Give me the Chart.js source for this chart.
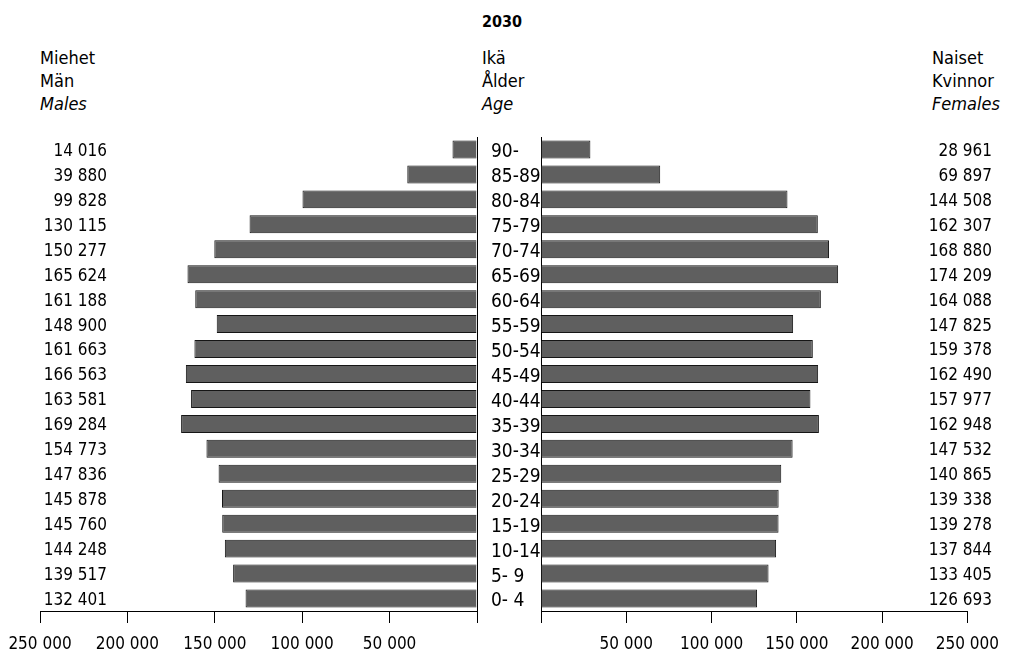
<!DOCTYPE html>
<html>
<head>
<meta charset="utf-8">
<script src="https://cdn.jsdelivr.net/npm/chart.js@4/dist/chart.umd.min.js"></script>
<style>
  html,body{margin:0;padding:0;background:#fff;}
  body{width:1010px;height:653px;position:relative;overflow:hidden;
       font-family:"DejaVu Sans Condensed","Liberation Sans Narrow","Liberation Sans",sans-serif;color:#000;}
  canvas{position:absolute;top:0;}
  .hdr{position:absolute;font-size:18px;line-height:23px;}
  .it{font-style:italic;}
  #year{position:absolute;left:482px;top:10px;font-size:16px;font-weight:bold;line-height:24px;}
</style>
</head>
<body>
<div id="year">2030</div>
<div class="hdr" style="left:40px;top:46px;">Miehet<br>Män<br><span class="it">Males</span></div>
<div class="hdr" style="left:482px;top:46px;">Ikä<br>Ålder<br><span class="it">Age</span></div>
<div class="hdr" style="left:932px;top:46px;">Naiset<br>Kvinnor<br><span class="it">Females</span></div>
<canvas id="m" width="540" height="653" style="left:0;width:540px;height:653px;"></canvas>
<canvas id="f" width="510" height="653" style="left:500px;width:510px;height:653px;"></canvas>
<script>
const ageGroups = ['90-','85-89','80-84','75-79','70-74','65-69','60-64','55-59','50-54','45-49','40-44','35-39','30-34','25-29','20-24','15-19','10-14','5- 9','0- 4'];
const males = [14016,39880,99828,130115,150277,165624,161188,148900,161663,166563,163581,169284,154773,147836,145878,145760,144248,139517,132401];
const females = [28961,69897,144508,162307,168880,174209,164088,147825,159378,162490,157977,162948,147532,140865,139338,139278,137844,133405,126693];
const axisTicks = [0,50000,100000,150000,200000,250000];

const FONT = '"DejaVu Sans Condensed","Liberation Sans Narrow","Liberation Sans",sans-serif';
const fmt = n => String(n).replace(/\B(?=(\d{3})+(?!\d))/g, ' ');
const barFill = '#5f5f5f', barBorder = '#151515';

function valueLabels(xRight){
  return {
    id:'valueLabels',
    afterDraw(chart){
      const ctx = chart.ctx, ys = chart.scales.y, data = chart.data.datasets[0].data;
      ctx.save();
      ctx.font = '17px ' + FONT;
      ctx.fillStyle = '#000';
      ctx.textAlign = 'right';
      ctx.textBaseline = 'middle';
      data.forEach((v,i)=>ctx.fillText(fmt(v), xRight, ys.getPixelForValue(i)+2));
      ctx.restore();
    }
  };
}

function xScale(reverse){
  return {
    type:'linear', reverse, min:0, max:250000,
    afterBuildTicks(s){ s.ticks = axisTicks.map(v=>({value:v})); },
    ticks:{ callback:v => v===0 ? '' : fmt(v), color:'#000', font:{family:FONT,size:17}, padding:11, maxRotation:0, autoSkip:false },
    grid:{ drawOnChartArea:false, drawTicks:true, tickLength:12, color:'#000', lineWidth:1 },
    border:{ display:true, color:'#000', width:1 },
    afterFit(s){ s.height = 42; }
  };
}

const ds = data => ({ data, backgroundColor:barFill, borderColor:barBorder, borderWidth:1, barPercentage:0.72, categoryPercentage:1 });

new Chart(document.getElementById('m'), {
  type:'bar',
  data:{ labels:ageGroups, datasets:[ds(males)] },
  options:{
    indexAxis:'y', responsive:false, animation:false,
    layout:{ padding:{ left:40, right:0, top:137, bottom:0 } },
    plugins:{ legend:{display:false}, tooltip:{enabled:false} },
    scales:{
      x: xScale(true),
      y:{ position:'right', ticks:{ color:'#000', font:{family:FONT,size:19}, padding:6, autoSkip:false, labelOffset:3 },
          grid:{ display:false }, border:{ display:true, color:'#000', width:1 },
          afterFit(s){ s.width = 63; } }
    }
  },
  plugins:[valueLabels(107)]
});

new Chart(document.getElementById('f'), {
  type:'bar',
  data:{ labels:ageGroups, datasets:[ds(females)] },
  options:{
    indexAxis:'y', responsive:false, animation:false,
    layout:{ padding:{ left:41, right:38, top:137, bottom:0 } },
    plugins:{ legend:{display:false}, tooltip:{enabled:false} },
    scales:{
      x: xScale(false),
      y:{ position:'left', ticks:{ display:false }, grid:{ display:false },
          border:{ display:true, color:'#000', width:1 },
          afterFit(s){ s.width = 0; } }
    }
  },
  plugins:[valueLabels(492)]
});
</script>
</body>
</html>
